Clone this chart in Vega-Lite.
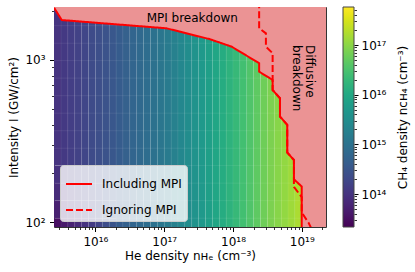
{
  "$schema": "https://vega.github.io/schema/vega-lite/v6.json",
  "width": 272,
  "height": 220,
  "autosize": {"type": "none"},
  "padding": {"left": 54, "top": 7, "right": 89, "bottom": 45},
  "background": "white",
  "datasets": {
    "cells": [
      {"x0":2.4e15,"x1":3.162e15,"y0":80,"y1":105.9,"v":3.162e13},
      {"x0":2.4e15,"x1":3.162e15,"y0":105.9,"y1":135.8,"v":5.248e13},
      {"x0":2.4e15,"x1":3.162e15,"y0":135.8,"y1":174.2,"v":7.586e13},
      {"x0":2.4e15,"x1":3.162e15,"y0":174.2,"y1":223.4,"v":9.12e13},
      {"x0":2.4e15,"x1":3.162e15,"y0":223.4,"y1":2300,"v":1.0e14},
      {"x0":3.162e15,"x1":3.981e15,"y0":80,"y1":105.9,"v":4.178e13},
      {"x0":3.162e15,"x1":3.981e15,"y0":105.9,"y1":135.8,"v":6.546e13},
      {"x0":3.162e15,"x1":3.981e15,"y0":135.8,"y1":174.2,"v":9.078e13},
      {"x0":3.162e15,"x1":3.981e15,"y0":174.2,"y1":223.4,"v":1.069e14},
      {"x0":3.162e15,"x1":3.981e15,"y0":223.4,"y1":2300,"v":1.161e14},
      {"x0":3.981e15,"x1":5.012e15,"y0":80,"y1":105.9,"v":5.508e13},
      {"x0":3.981e15,"x1":5.012e15,"y0":105.9,"y1":135.8,"v":8.166e13},
      {"x0":3.981e15,"x1":5.012e15,"y0":135.8,"y1":174.2,"v":1.089e14},
      {"x0":3.981e15,"x1":5.012e15,"y0":174.2,"y1":223.4,"v":1.256e14},
      {"x0":3.981e15,"x1":5.012e15,"y0":223.4,"y1":2300,"v":1.349e14},
      {"x0":5.012e15,"x1":6.31e15,"y0":80,"y1":105.9,"v":7.194e13},
      {"x0":5.012e15,"x1":6.31e15,"y0":105.9,"y1":135.8,"v":1.007e14},
      {"x0":5.012e15,"x1":6.31e15,"y0":135.8,"y1":174.2,"v":1.288e14},
      {"x0":5.012e15,"x1":6.31e15,"y0":174.2,"y1":223.4,"v":1.455e14},
      {"x0":5.012e15,"x1":6.31e15,"y0":223.4,"y1":2300,"v":1.549e14},
      {"x0":6.31e15,"x1":7.943e15,"y0":80,"y1":105.9,"v":9.484e13},
      {"x0":6.31e15,"x1":7.943e15,"y0":105.9,"y1":135.8,"v":1.256e14},
      {"x0":6.31e15,"x1":7.943e15,"y0":135.8,"y1":174.2,"v":1.542e14},
      {"x0":6.31e15,"x1":7.943e15,"y0":174.2,"y1":223.4,"v":1.71e14},
      {"x0":6.31e15,"x1":7.943e15,"y0":223.4,"y1":2300,"v":1.799e14},
      {"x0":7.943e15,"x1":1e16,"y0":80,"y1":105.9,"v":1.253e14},
      {"x0":7.943e15,"x1":1e16,"y0":105.9,"y1":135.8,"v":1.57e14},
      {"x0":7.943e15,"x1":1e16,"y0":135.8,"y1":174.2,"v":1.849e14},
      {"x0":7.943e15,"x1":1e16,"y0":174.2,"y1":223.4,"v":2.004e14},
      {"x0":7.943e15,"x1":1e16,"y0":223.4,"y1":2300,"v":2.089e14},
      {"x0":1e16,"x1":1.259e16,"y0":80,"y1":105.9,"v":1.66e14},
      {"x0":1e16,"x1":1.259e16,"y0":105.9,"y1":135.8,"v":1.968e14},
      {"x0":1e16,"x1":1.259e16,"y0":135.8,"y1":174.2,"v":2.223e14},
      {"x0":1e16,"x1":1.259e16,"y0":174.2,"y1":223.4,"v":2.366e14},
      {"x0":1e16,"x1":1.259e16,"y0":223.4,"y1":2300,"v":2.438e14},
      {"x0":1.259e16,"x1":1.585e16,"y0":80,"y1":105.9,"v":2.234e14},
      {"x0":1.259e16,"x1":1.585e16,"y0":105.9,"y1":135.8,"v":2.5e14},
      {"x0":1.259e16,"x1":1.585e16,"y0":135.8,"y1":174.2,"v":2.71e14},
      {"x0":1.259e16,"x1":1.585e16,"y0":174.2,"y1":223.4,"v":2.825e14},
      {"x0":1.259e16,"x1":1.585e16,"y0":223.4,"y1":2300,"v":2.884e14},
      {"x0":1.585e16,"x1":1.995e16,"y0":80,"y1":105.9,"v":3.013e14},
      {"x0":1.585e16,"x1":1.995e16,"y0":105.9,"y1":135.8,"v":3.192e14},
      {"x0":1.585e16,"x1":1.995e16,"y0":135.8,"y1":174.2,"v":3.327e14},
      {"x0":1.585e16,"x1":1.995e16,"y0":174.2,"y1":223.4,"v":3.396e14},
      {"x0":1.585e16,"x1":1.995e16,"y0":223.4,"y1":2300,"v":3.428e14},
      {"x0":1.995e16,"x1":2.512e16,"y0":80,"y1":2300,"v":4.074e14},
      {"x0":2.512e16,"x1":3.162e16,"y0":80,"y1":2300,"v":4.819e14},
      {"x0":3.162e16,"x1":3.981e16,"y0":80,"y1":2300,"v":5.728e14},
      {"x0":3.981e16,"x1":5.012e16,"y0":80,"y1":2300,"v":6.823e14},
      {"x0":5.012e16,"x1":6.31e16,"y0":80,"y1":2300,"v":8.128e14},
      {"x0":6.31e16,"x1":7.943e16,"y0":80,"y1":2300,"v":9.683e14},
      {"x0":7.943e16,"x1":1e17,"y0":80,"y1":2300,"v":1.153e15},
      {"x0":1e17,"x1":1.259e17,"y0":80,"y1":2300,"v":1.429e15},
      {"x0":1.259e17,"x1":1.585e17,"y0":80,"y1":2300,"v":1.841e15},
      {"x0":1.585e17,"x1":1.995e17,"y0":80,"y1":2300,"v":2.371e15},
      {"x0":1.995e17,"x1":2.512e17,"y0":80,"y1":2300,"v":3.055e15},
      {"x0":2.512e17,"x1":3.162e17,"y0":80,"y1":2300,"v":3.936e15},
      {"x0":3.162e17,"x1":3.981e17,"y0":80,"y1":2300,"v":5.129e15},
      {"x0":3.981e17,"x1":5.012e17,"y0":80,"y1":2300,"v":6.761e15},
      {"x0":5.012e17,"x1":6.31e17,"y0":80,"y1":2300,"v":8.913e15},
      {"x0":6.31e17,"x1":7.943e17,"y0":80,"y1":2300,"v":1.175e16},
      {"x0":7.943e17,"x1":1e18,"y0":80,"y1":2300,"v":1.549e16},
      {"x0":1e18,"x1":1.259e18,"y0":80,"y1":2300,"v":2.042e16},
      {"x0":1.259e18,"x1":1.585e18,"y0":80,"y1":2300,"v":2.692e16},
      {"x0":1.585e18,"x1":1.995e18,"y0":80,"y1":2300,"v":3.548e16},
      {"x0":1.995e18,"x1":2.512e18,"y0":80,"y1":2300,"v":4.677e16},
      {"x0":2.512e18,"x1":3.162e18,"y0":80,"y1":2300,"v":6.166e16},
      {"x0":3.162e18,"x1":3.981e18,"y0":80,"y1":2300,"v":7.762e16},
      {"x0":3.981e18,"x1":5.012e18,"y0":80,"y1":2300,"v":9.333e16},
      {"x0":5.012e18,"x1":6.31e18,"y0":80,"y1":2300,"v":1.122e17},
      {"x0":6.31e18,"x1":7.943e18,"y0":80,"y1":2300,"v":1.349e17},
      {"x0":7.943e18,"x1":1.02e19,"y0":80,"y1":2300,"v":1.622e17}
    ],
    "vgrid": [
      {"g":3.162e15},{"g":3.981e15},{"g":5.012e15},{"g":6.31e15},{"g":7.943e15},{"g":1e16},
      {"g":1.259e16},{"g":1.585e16},{"g":1.995e16},{"g":2.512e16},{"g":3.162e16},{"g":3.981e16},
      {"g":5.012e16},{"g":6.31e16},{"g":7.943e16},{"g":1e17},{"g":1.259e17},{"g":1.585e17},
      {"g":1.995e17},{"g":2.512e17},{"g":3.162e17},{"g":3.981e17},{"g":5.012e17},{"g":6.31e17},
      {"g":7.943e17},{"g":1e18},{"g":1.259e18},{"g":1.585e18},{"g":1.995e18},{"g":2.512e18},
      {"g":3.162e18},{"g":3.981e18},{"g":5.012e18},{"g":6.31e18},{"g":7.943e18}
    ],
    "hgrid": [
      {"g":105.9},{"g":135.8},{"g":174.2},{"g":223.4},{"g":285.8},{"g":366.4},{"g":469.9},
      {"g":602.6},{"g":772.7},{"g":990.8},{"g":1268},{"g":1626},{"g":2084}
    ],
    "region": [
      {"x":2.4e15,"y":2150},{"x":3.24e15,"y":1762},{"x":1.08e17,"y":1567},{"x":4.61e17,"y":1343},
      {"x":9.55e17,"y":1208},{"x":2.4e18,"y":955},{"x":2.401e18,"y":847},{"x":3.77e18,"y":753},
      {"x":3.771e18,"y":653},{"x":4.82e18,"y":581},{"x":4.821e18,"y":448},{"x":6.15e18,"y":398},
      {"x":6.151e18,"y":269},{"x":7.69e18,"y":242},{"x":7.691e18,"y":184},{"x":9.98e18,"y":166},
      {"x":9.981e18,"y":85},{"x":2.4e19,"y":85}
    ],
    "lines": [
      {"s":"Including MPI","i":1,"x":2.5e15,"y":2100},
      {"s":"Including MPI","i":2,"x":3.24e15,"y":1762},
      {"s":"Including MPI","i":3,"x":1.08e17,"y":1567},
      {"s":"Including MPI","i":4,"x":4.61e17,"y":1343},
      {"s":"Including MPI","i":5,"x":9.55e17,"y":1208},
      {"s":"Including MPI","i":6,"x":2.4e18,"y":955},
      {"s":"Including MPI","i":7,"x":2.4e18,"y":847},
      {"s":"Including MPI","i":8,"x":3.77e18,"y":753},
      {"s":"Including MPI","i":9,"x":3.77e18,"y":653},
      {"s":"Including MPI","i":10,"x":4.82e18,"y":581},
      {"s":"Including MPI","i":11,"x":4.82e18,"y":448},
      {"s":"Including MPI","i":12,"x":6.15e18,"y":398},
      {"s":"Including MPI","i":13,"x":6.15e18,"y":269},
      {"s":"Including MPI","i":14,"x":7.69e18,"y":242},
      {"s":"Including MPI","i":15,"x":7.69e18,"y":184},
      {"s":"Including MPI","i":16,"x":9.98e18,"y":166},
      {"s":"Including MPI","i":17,"x":9.98e18,"y":85},
      {"s":"Ignoring MPI","i":1,"x":2.4e18,"y":2300},
      {"s":"Ignoring MPI","i":2,"x":2.4e18,"y":1567},
      {"s":"Ignoring MPI","i":3,"x":3.01e18,"y":1459},
      {"s":"Ignoring MPI","i":4,"x":3.01e18,"y":1208},
      {"s":"Ignoring MPI","i":5,"x":3.77e18,"y":1100},
      {"s":"Ignoring MPI","i":6,"x":3.77e18,"y":653},
      {"s":"Ignoring MPI","i":7,"x":4.82e18,"y":581},
      {"s":"Ignoring MPI","i":8,"x":4.82e18,"y":448},
      {"s":"Ignoring MPI","i":9,"x":6.15e18,"y":398},
      {"s":"Ignoring MPI","i":10,"x":6.15e18,"y":269},
      {"s":"Ignoring MPI","i":11,"x":7.69e18,"y":242},
      {"s":"Ignoring MPI","i":12,"x":7.69e18,"y":165},
      {"s":"Ignoring MPI","i":13,"x":9.98e18,"y":143},
      {"s":"Ignoring MPI","i":14,"x":9.98e18,"y":115},
      {"s":"Ignoring MPI","i":15,"x":1.26e19,"y":99},
      {"s":"Ignoring MPI","i":16,"x":1.5e19,"y":85}
    ],
    "cbar": [{"c":2.17e13},{"c":5.82e17}]
  },
  "layer": [
    {
      "data": {"name": "cells"},
      "mark": {"type": "rect", "clip": true},
      "encoding": {
        "x": {"field": "x0", "type": "quantitative",
          "scale": {"type": "log", "domain": [2.5e15, 2.25e19], "nice": false},
          "axis": {"orient": "bottom", "values": [1e16, 1e17, 1e18, 1e19],
            "labelExpr": "datum.value < 3e16 ? '10¹⁶' : datum.value < 3e17 ? '10¹⁷' : datum.value < 3e18 ? '10¹⁸' : '10¹⁹'",
            "tickSize": 4.5, "labelPadding": 5, "labelOverlap": false,
            "title": "He density nʜₑ (cm⁻³)", "titlePadding": 3, "domain": true}},
        "x2": {"field": "x1"},
        "y": {"field": "y0", "type": "quantitative",
          "scale": {"type": "log", "domain": [93.5, 2120], "nice": false},
          "axis": {"orient": "left", "values": [100, 1000],
            "labelExpr": "datum.value < 300 ? '10²' : '10³'",
            "tickSize": 4.5, "labelPadding": 4.5, "labelOverlap": false,
            "title": "Intensity I (GW/cm²)", "titlePadding": 4, "domain": true}},
        "y2": {"field": "y1"},
        "color": {"field": "v", "type": "quantitative",
          "scale": {"type": "log", "scheme": "viridis", "domain": [2.17e13, 5.82e17], "nice": false},
          "legend": {"orient": "none", "legendX": 289, "legendY": 0, "direction": "vertical",
            "gradientLength": 220, "gradientThickness": 11, "title": null, "labelExpr": "''",
            "gradientStrokeColor": "#444", "gradientStrokeWidth": 1, "padding": 0}}
      }
    },
    {
      "data": {"name": "vgrid"},
      "mark": {"type": "rule", "color": "white", "opacity": 0.06, "strokeWidth": 1, "clip": true},
      "encoding": {
        "x": {"field": "g", "type": "quantitative",
          "scale": {"type": "log", "domain": [2.5e15, 2.25e19], "nice": false},
          "axis": {"orient": "bottom", "values": [3e15,4e15,5e15,6e15,7e15,8e15,9e15,2e16,3e16,4e16,5e16,6e16,7e16,8e16,9e16,2e17,3e17,4e17,5e17,6e17,7e17,8e17,9e17,2e18,3e18,4e18,5e18,6e18,7e18,8e18,9e18,2e19],
            "labels": false, "tickSize": 2.5, "tickWidth": 0.8, "domain": false, "title": null}}
      }
    },
    {
      "data": {"name": "hgrid"},
      "mark": {"type": "rule", "color": "white", "opacity": 0.08, "strokeWidth": 1, "clip": true},
      "encoding": {
        "y": {"field": "g", "type": "quantitative",
          "scale": {"type": "log", "domain": [93.5, 2120], "nice": false},
          "axis": {"orient": "left", "values": [200,300,400,500,600,700,800,900,2000],
            "labels": false, "tickSize": 2.5, "tickWidth": 0.8, "domain": false, "title": null}}
      }
    },
    {
      "data": {"name": "region"},
      "mark": {"type": "area", "color": "#eb9394", "opacity": 1, "clip": true},
      "encoding": {
        "x": {"field": "x", "type": "quantitative",
          "scale": {"type": "log", "domain": [2.5e15, 2.25e19], "nice": false},
          "axis": {"orient": "top", "ticks": false, "labels": false, "domain": true, "title": null}},
        "y": {"field": "y", "type": "quantitative", "stack": null,
          "scale": {"type": "log", "domain": [93.5, 2120], "nice": false},
          "axis": {"orient": "right", "ticks": false, "labels": false, "domain": true, "title": null}},
        "y2": {"datum": 2300}
      }
    },
    {
      "data": {"name": "lines"},
      "mark": {"type": "line", "color": "#ff0000", "strokeWidth": 2, "clip": true},
      "encoding": {
        "x": {"field": "x", "type": "quantitative",
          "scale": {"type": "log", "domain": [2.5e15, 2.25e19], "nice": false}, "axis": null},
        "y": {"field": "y", "type": "quantitative",
          "scale": {"type": "log", "domain": [93.5, 2120], "nice": false}, "axis": null},
        "order": {"field": "i", "type": "quantitative"},
        "strokeDash": {"field": "s", "type": "nominal",
          "scale": {"domain": ["Including MPI", "Ignoring MPI"], "range": [[1, 0], [7, 3]]},
          "legend": {"orient": "bottom-left", "offset": 6, "title": null,
            "fillColor": "rgba(255,255,255,0.8)", "strokeColor": "#cccccc", "cornerRadius": 3,
            "padding": 5, "symbolType": "stroke", "symbolSize": 676, "symbolStrokeWidth": 2,
            "symbolStrokeColor": "#ff0000", "labelFont": "DejaVu Sans", "labelFontSize": 12,
            "labelColor": "#000", "labelOffset": 9, "rowPadding": 6}}
      }
    },
    {
      "data": {"values": [{"t": "MPI breakdown", "x": 2.56e17, "y": 1722}]},
      "mark": {"type": "text", "align": "center", "baseline": "alphabetic", "font": "DejaVu Sans", "fontSize": 12, "color": "#000"},
      "encoding": {
        "x": {"field": "x", "type": "quantitative",
          "scale": {"type": "log", "domain": [2.5e15, 2.25e19], "nice": false}, "axis": null},
        "y": {"field": "y", "type": "quantitative",
          "scale": {"type": "log", "domain": [93.5, 2120], "nice": false}, "axis": null},
        "text": {"field": "t"}
      }
    },
    {
      "data": {"values": [{"t": "Diffusive", "x": 1.32e19, "y": 1236}, {"t": "breakdown", "x": 8.5e18, "y": 1236}]},
      "mark": {"type": "text", "align": "left", "baseline": "middle", "angle": 90, "font": "DejaVu Sans", "fontSize": 12, "color": "#000"},
      "encoding": {
        "x": {"field": "x", "type": "quantitative",
          "scale": {"type": "log", "domain": [2.5e15, 2.25e19], "nice": false}, "axis": null},
        "y": {"field": "y", "type": "quantitative",
          "scale": {"type": "log", "domain": [93.5, 2120], "nice": false}, "axis": null},
        "text": {"field": "t"}
      }
    },
    {
      "data": {"name": "cbar"},
      "mark": {"type": "rule", "opacity": 0},
      "encoding": {
        "y": {"field": "c", "type": "quantitative",
          "scale": {"type": "log", "domain": [2.17e13, 5.82e17], "nice": false},
          "axis": {"orient": "right", "offset": 28, "values": [1e14, 1e15, 1e16, 1e17],
            "labelExpr": "datum.value < 3e14 ? '10¹⁴' : datum.value < 3e15 ? '10¹⁵' : datum.value < 3e16 ? '10¹⁶' : '10¹⁷'",
            "tickSize": 4, "labelPadding": 3, "labelOverlap": false, "domain": false,
            "title": "CH₄ density nᴄʜ₄ (cm⁻³)", "titleAngle": 270, "titleBaseline": "top", "titlePadding": 12}}
      }
    },
    {
      "data": {"name": "cbar"},
      "mark": {"type": "rule", "opacity": 0},
      "encoding": {
        "y": {"field": "c", "type": "quantitative",
          "scale": {"type": "log", "domain": [2.17e13, 5.82e17], "nice": false},
          "axis": {"orient": "right", "offset": 28,
            "values": [3e13,4e13,5e13,6e13,7e13,8e13,9e13,2e14,3e14,4e14,5e14,6e14,7e14,8e14,9e14,2e15,3e15,4e15,5e15,6e15,7e15,8e15,9e15,2e16,3e16,4e16,5e16,6e16,7e16,8e16,9e16,2e17,3e17,4e17,5e17],
            "labels": false, "tickSize": 2.5, "tickWidth": 0.8, "domain": false, "title": null}}
      }
    }
  ],
  "resolve": {
    "scale": {"x": "independent", "y": "independent"},
    "axis": {"x": "independent", "y": "independent"}
  },
  "config": {
    "font": "DejaVu Sans",
    "view": {"stroke": null},
    "axis": {
      "labelFont": "DejaVu Sans", "labelFontSize": 12, "labelColor": "#000",
      "titleFont": "DejaVu Sans", "titleFontSize": 12, "titleFontWeight": "normal", "titleColor": "#000",
      "tickColor": "#000", "tickWidth": 1, "domainColor": "#333", "domainWidth": 1, "grid": false, "zindex": 1
    }
  }
}
